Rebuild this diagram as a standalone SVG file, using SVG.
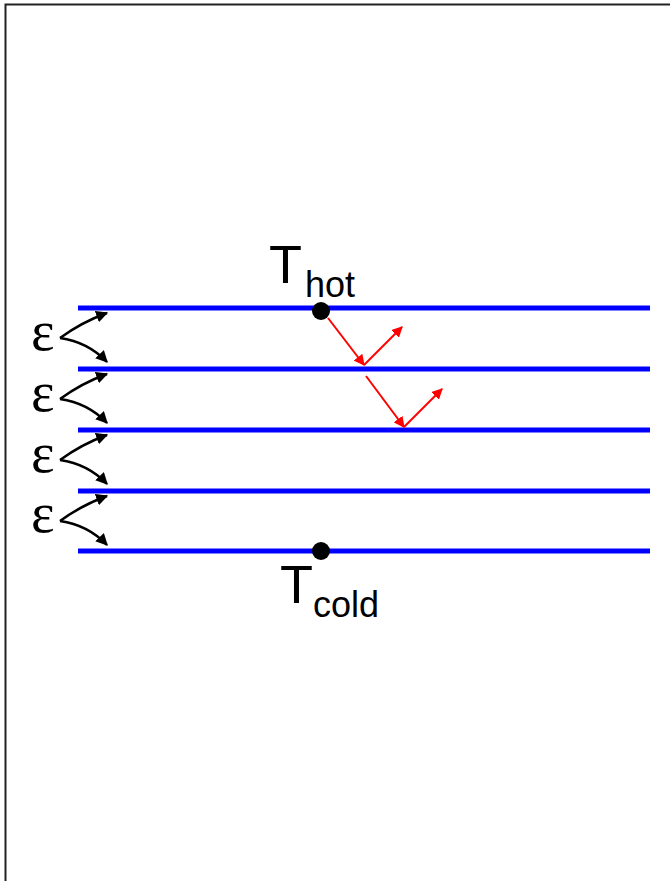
<svg xmlns="http://www.w3.org/2000/svg" width="670" height="881" viewBox="0 0 670 881">
<defs>
<marker id="ab" viewBox="0 0 10 10" refX="9" refY="5" markerWidth="12" markerHeight="12" markerUnits="userSpaceOnUse" orient="auto">
<path d="M0,0 L10,5 L0,10 Z" fill="#000"/>
</marker>
<marker id="ar" viewBox="0 0 10 10" refX="9" refY="5" markerWidth="11" markerHeight="11" markerUnits="userSpaceOnUse" orient="auto">
<path d="M0,0 L10,5 L0,10 Z" fill="#f00"/>
</marker>
<style>
.plate{stroke:#0000ff;stroke-width:5;fill:none}
.eps{font-family:"Liberation Serif",serif;font-size:56px;fill:#000}
.lab{font-family:"Liberation Sans",sans-serif;fill:#000}
.ca{stroke:#000;stroke-width:2.5;fill:none;marker-end:url(#ab)}
.ra{stroke:#f00;stroke-width:2;fill:none;marker-end:url(#ar)}
</style>
</defs>
<rect width="670" height="881" fill="#fff"/>
<path d="M5.5,881 V4.5 H670" fill="none" stroke="#222" stroke-width="2"/>
<g id="plates">
<line class="plate" x1="78" y1="308" x2="650" y2="308"/>
<line class="plate" x1="78" y1="369" x2="650" y2="369"/>
<line class="plate" x1="78" y1="430" x2="650" y2="430"/>
<line class="plate" x1="78" y1="491" x2="650" y2="491"/>
<line class="plate" x1="78" y1="551" x2="650" y2="551"/>
</g>
<g id="hot">
<circle cx="321" cy="311" r="9" fill="#000"/>
<text class="lab" x="269" y="283" font-size="54">T</text>
<text class="lab" x="305" y="297" font-size="36">hot</text>
</g>
<g id="cold">
<circle cx="321" cy="551" r="9" fill="#000"/>
<text class="lab" x="280" y="603" font-size="54">T</text>
<text class="lab" x="313" y="617" font-size="36">cold</text>
</g>
<g id="epsilons">
<text class="eps" x="31" y="350">ε</text>
<text class="eps" x="31" y="411">ε</text>
<text class="eps" x="31" y="472">ε</text>
<text class="eps" x="31" y="532">ε</text>
</g>
<g id="connectors">
<path class="ca" d="M60,338 Q82,322 107,313"/>
<path class="ca" d="M60,338 Q88,342 107,362"/>
<path class="ca" d="M60,399 Q82,383 107,374"/>
<path class="ca" d="M60,399 Q88,403 107,423"/>
<path class="ca" d="M60,460 Q82,444 107,435"/>
<path class="ca" d="M60,460 Q88,464 107,484"/>
<path class="ca" d="M60,521 Q82,505 107,496"/>
<path class="ca" d="M60,521 Q88,525 107,545"/>
<path class="ra" d="M328,318 L364,365"/>
<path class="ra" d="M364,365 L402,327"/>
<path class="ra" d="M366,376 L404,427"/>
<path class="ra" d="M404,427 L442,389"/>
</g>
</svg>
